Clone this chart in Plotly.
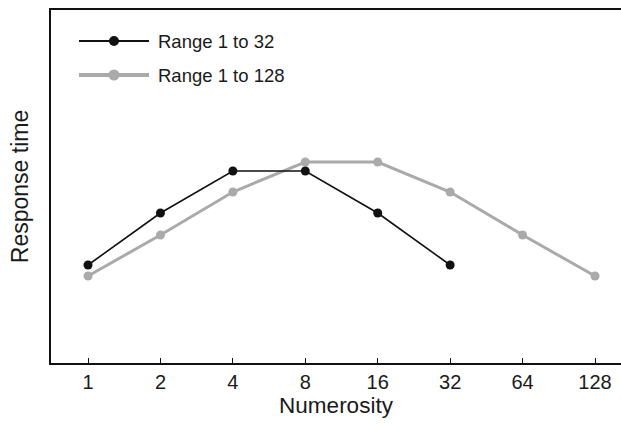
import plotly.graph_objects as go

numerosity = ["1", "2", "4", "8", "16", "32", "64", "128"]
range32_x = ["1", "2", "4", "8", "16", "32"]
range32_rt = [98, 150, 192, 192, 150, 98]
range128_x = ["1", "2", "4", "8", "16", "32", "64", "128"]
range128_rt = [87, 128, 171, 201, 201, 171, 128, 87]
series_names = ["Range 1 to 32", "Range 1 to 128"]

BLACK = "#111111"
GRAY = "#aaaaaa"
TXT = "#1a1a1a"
FONT = "Liberation Sans, Arial, Helvetica, sans-serif"

W, H = 621, 425
ML, MT, MB, MR = 51, 10, 62, 0
PW, PH = W - ML - MR, H - MT - MB

fig = go.Figure()
fig.add_trace(go.Scatter(x=range128_x, y=range128_rt, mode="lines+markers",
                         line=dict(color=GRAY, width=3),
                         marker=dict(color=GRAY, size=9),
                         name=series_names[1], showlegend=False))
fig.add_trace(go.Scatter(x=range32_x, y=range32_rt, mode="lines+markers",
                         line=dict(color=BLACK, width=1.6),
                         marker=dict(color=BLACK, size=9),
                         name=series_names[0], showlegend=False))

def px(x):
    return (x - ML) / PW

def py(y):
    return (H - MB - y) / PH

shapes = []
annotations = []
legend_items = [(series_names[0], BLACK, 2, 10, 41), (series_names[1], GRAY, 4, 11, 75)]
for name, col, lw, ms, yy in legend_items:
    shapes.append(dict(type="line", xref="paper", yref="paper",
                       x0=px(79), x1=px(149), y0=py(yy), y1=py(yy),
                       line=dict(color=col, width=lw)))
    shapes.append(dict(type="circle", xref="paper", yref="paper",
                       xsizemode="pixel", ysizemode="pixel",
                       xanchor=px(114), yanchor=py(yy),
                       x0=-ms / 2, x1=ms / 2, y0=-ms / 2, y1=ms / 2,
                       fillcolor=col, line=dict(color=col, width=0)))
    annotations.append(dict(text=name, xref="paper", yref="paper",
                            x=px(156), y=py(yy), xanchor="left", yanchor="middle",
                            showarrow=False, font=dict(size=18.5, color=TXT, family=FONT)))

fig.update_layout(
    width=W, height=H,
    margin=dict(l=ML, r=MR, t=MT, b=MB, pad=0),
    paper_bgcolor="white", plot_bgcolor="white",
    font=dict(family=FONT, color=TXT),
    shapes=shapes, annotations=annotations,
    xaxis=dict(type="category", categoryorder="array", categoryarray=numerosity,
               range=[-0.511, 7.359], showgrid=False, zeroline=False,
               showline=True, linecolor=BLACK, linewidth=2, mirror=True,
               ticks="inside", ticklen=5, tickwidth=1, tickcolor=BLACK,
               tickfont=dict(size=20, family=FONT, color=TXT),
               title=dict(text="Numerosity", font=dict(size=22.5, family=FONT, color=TXT),
                          standoff=2)),
    yaxis=dict(range=[0, PH], showgrid=False, zeroline=False,
               showline=True, linecolor=BLACK, linewidth=2, mirror=False,
               showticklabels=False, ticks="",
               title=dict(text="Response time", font=dict(size=23, family=FONT, color=TXT),
                          standoff=14)),
)

fig.write_html("out.html")
